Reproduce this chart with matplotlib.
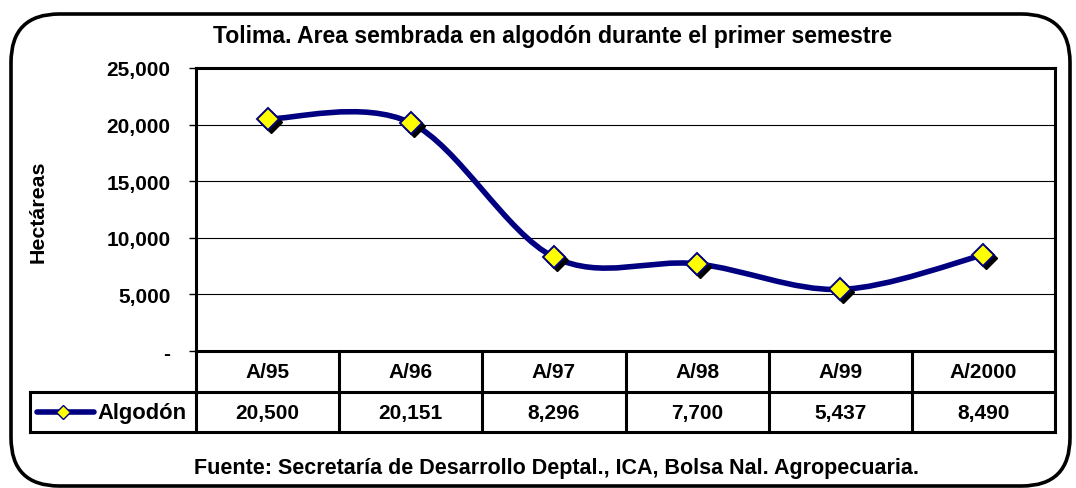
import numpy as np
import matplotlib
matplotlib.use("Agg")
import matplotlib.pyplot as plt
from matplotlib.path import Path
from matplotlib.patches import PathPatch, FancyBboxPatch
from matplotlib.lines import Line2D
import matplotlib.transforms as mtransforms

plt.rcParams['font.family'] = ['Liberation Sans', 'DejaVu Sans']
plt.rcParams['font.weight'] = 'bold'

# ---------------------------------------------------------
# Data
# ---------------------------------------------------------
campaigns = ['A/95', 'A/96', 'A/97', 'A/98', 'A/99', 'A/2000']
algodon = [20500, 20151, 8296, 7700, 5437, 8490]
series_name = 'Algodón'
yticks = [0, 5000, 10000, 15000, 20000, 25000]
ytick_labels = ['-', '5,000', '10,000', '15,000', '20,000', '25,000']

title = 'Tolima. Area sembrada en algodón durante el primer semestre'
ylabel = 'Hectáreas'
source = 'Fuente: Secretaría de Desarrollo Deptal., ICA, Bolsa Nal. Agropecuaria.'

W, H = 1076, 489
fig = plt.figure(figsize=(W / 100, H / 100), dpi=100)


def fx(x):
    return x / W


def fy(y):
    return 1 - y / H


# plot area (pixel box taken from reference)
left, right, top, bottom = 196, 1055, 69, 352
ax = fig.add_axes([fx(left), fy(bottom), fx(right - left), (bottom - top) / H])

n = len(campaigns)
xs = np.arange(n)
ys = np.array(algodon, dtype=float)

# smoothed line like Excel (cubic bezier through the points)
verts = [(xs[0], ys[0])]
codes = [Path.MOVETO]
for i in range(n - 1):
    p_prev = (xs[max(i - 1, 0)], ys[max(i - 1, 0)])
    p0 = (xs[i], ys[i])
    p1 = (xs[i + 1], ys[i + 1])
    p_next = (xs[min(i + 2, n - 1)], ys[min(i + 2, n - 1)])
    c1 = (p0[0] + (p1[0] - p_prev[0]) / 6, p0[1] + (p1[1] - p_prev[1]) / 6)
    c2 = (p1[0] - (p_next[0] - p0[0]) / 6, p1[1] - (p_next[1] - p0[1]) / 6)
    verts += [c1, c2, p1]
    codes += [Path.CURVE4] * 3
ax.add_patch(PathPatch(Path(verts, codes), facecolor='none',
                       edgecolor='#000080', lw=4, capstyle='round', zorder=3))

# marker shadow + marker
shadow = mtransforms.offset_copy(ax.transData, fig=fig, x=3, y=-3, units='dots')
ax.plot(xs, ys, ls='none', marker='D', ms=11, color='black', transform=shadow, zorder=4)
ax.plot(xs, ys, ls='none', marker='D', ms=11, markerfacecolor='#FFFF00',
        markeredgecolor='#000080', markeredgewidth=1.4, zorder=5)

ax.set_xlim(-0.5, n - 0.5)
ax.set_ylim(0, 25000)
ax.set_yticks(yticks)
ax.set_yticklabels(ytick_labels, fontsize=15, fontweight='bold')
ax.set_xticks([])
ax.tick_params(axis='y', direction='out', length=5, width=1, pad=13.5)
for v in yticks[1:-1]:
    ax.axhline(v, color='black', lw=0.8, zorder=1)
for s in ax.spines.values():
    s.set_linewidth(2.2)

fig.text(fx(38), fy(212), ylabel, rotation=90, ha='center', va='center',
         fontsize=15.4, fontweight='bold')
fig.text(fx(553), fy(37), title, ha='center', va='center', fontsize=16.6, fontweight='bold')
fig.text(fx(556), fy(469), source, ha='center', va='center', fontsize=15.5, fontweight='bold')

# ---------------------------------------------------------
# Data table under the chart
# ---------------------------------------------------------
row1, row2, row3 = 352, 393, 433
leg_left = 30
col_edges = np.linspace(left, right, n + 1)
lw_tab = 2.2

def hline(y, x0, x1):
    fig.add_artist(Line2D([fx(x0), fx(x1)], [fy(y), fy(y)], color='black', lw=lw_tab))

def vline(x, y0, y1):
    fig.add_artist(Line2D([fx(x), fx(x)], [fy(y0), fy(y1)], color='black', lw=lw_tab))

hline(row2, leg_left, right)
hline(row3, leg_left, right)
vline(leg_left, row2, row3)
for xe in col_edges:
    vline(xe, row1, row3)

for i in range(n):
    cx = (col_edges[i] + col_edges[i + 1]) / 2
    fig.text(fx(cx), fy((row1 + row2) / 2), campaigns[i], ha='center', va='center',
             fontsize=15, fontweight='bold')
    fig.text(fx(cx), fy((row2 + row3) / 2), f'{algodon[i]:,}', ha='center', va='center',
             fontsize=15, fontweight='bold')

# legend key
ky = (row2 + row3) / 2
fig.add_artist(Line2D([fx(37), fx(94)], [fy(ky), fy(ky)], color='#000080', lw=4,
                      solid_capstyle='round'))
fig.add_artist(Line2D([fx(63)], [fy(ky)], ls='none', marker='D', ms=7.5,
                      markerfacecolor='#FFFF00', markeredgecolor='#000080', markeredgewidth=1))
fig.text(fx(97), fy(ky), series_name, ha='left', va='center', fontsize=15.8, fontweight='bold')

# rounded frame
frame = FancyBboxPatch((fx(11), fy(487)), fx(1059), (487 - 15) / H,
                       boxstyle='round,pad=0,rounding_size=0.045',
                       transform=fig.transFigure, facecolor='none', edgecolor='black',
                       lw=2.6, mutation_aspect=W / H)
fig.add_artist(frame)

fig.savefig('out.png', dpi=100)
